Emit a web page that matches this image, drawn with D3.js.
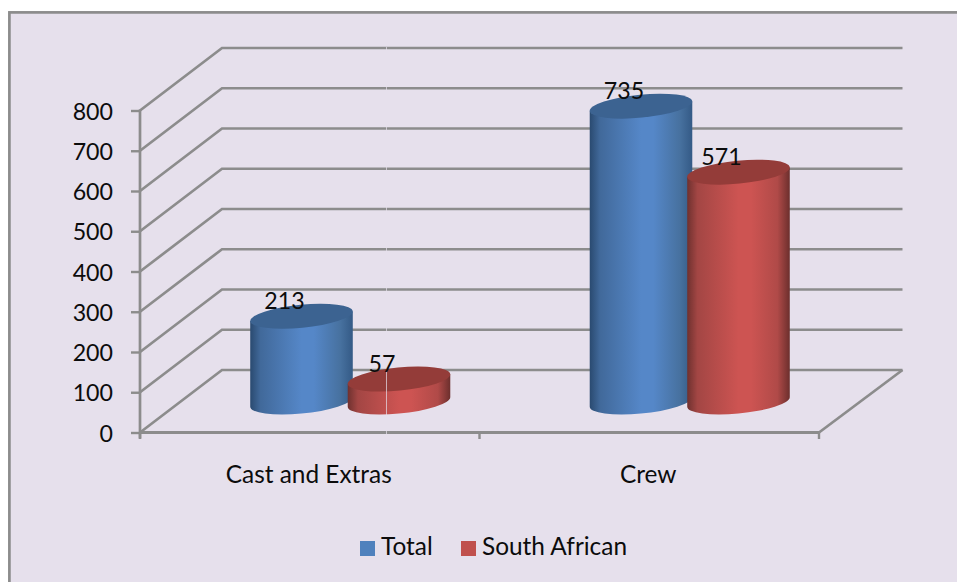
<!DOCTYPE html>
<html>
<head>
<meta charset="utf-8">
<script src="https://cdn.jsdelivr.net/npm/d3@7"></script>
<style>
  html, body { margin: 0; padding: 0; background: #fff; }
  svg { display: block; }
  text { font-family: Lato, "Open Sans", sans-serif; fill: #0c0c0c; }
</style>
</head>
<body>
<svg id="chart" width="957" height="582"></svg>
<script>
const categories = ["Cast and Extras", "Crew"];
const seriesNames = ["Total", "South African"];
const totalValues = [213, 735];
const southAfricanValues = [57, 571];
const yTicks = [0, 100, 200, 300, 400, 500, 600, 700, 800];

const seriesColors = ["#4f81bd", "#c0504d"];
const topColors = ["#3c6391", "#943c39"];
const sideStops = [
  [["0%", "#2a4a70"], ["10%", "#41699a"], ["50%", "#5587c8"], ["62%", "#5587c8"], ["88%", "#47719f"], ["100%", "#345a86"]],
  [["0%", "#6f312f"], ["10%", "#a34644"], ["50%", "#cd5452"], ["62%", "#cd5452"], ["88%", "#b04a48"], ["100%", "#6c2f2d"]]
];
const seriesValues = [totalValues, southAfricanValues];

const gridColor = "#8c8c8c";
const wallDx = 82, wallDy = -62.5;
const digitSize = 23.2, wordSize = 24.4;
const svg = d3.select("#chart");

const y = d3.scaleLinear().domain([0, 800]).range([432.5, 110.5]);
const x = d3.scaleBand().domain(categories).range([140, 819]);

// Panel background with its border running off the right and bottom edges
svg.append("rect").attr("x", 9.4).attr("y", 12.4).attr("width", 960).attr("height", 600)
  .attr("fill", "#e6e0ec").attr("stroke", gridColor).attr("stroke-width", 2.7);

const defs = svg.append("defs");
sideStops.forEach((stops, i) => {
  const g = defs.append("linearGradient").attr("id", "side" + i)
    .attr("x1", "0%").attr("x2", "100%").attr("y1", "0%").attr("y2", "0%");
  stops.forEach(s => g.append("stop").attr("offset", s[0]).attr("stop-color", s[1]));
});

// Side wall and back wall gridlines
const grid = svg.append("g").attr("fill", "none").attr("stroke", gridColor).attr("stroke-width", 2.7);
grid.selectAll("path.wall").data(yTicks).join("path").attr("class", "wall")
  .attr("d", d => d3.line()([
    [x.range()[0], y(d)],
    [x.range()[0] + wallDx, y(d) + wallDy],
    [x.range()[1] + wallDx + 1.5, y(d) + wallDy]
  ]));

// Floor edge on the right
grid.append("path").attr("d", d3.line()([
  [x.range()[1] + wallDx + 1.5, y(0) + wallDy],
  [x.range()[1], y(0)]
]));

// Value axis
const yAxis = d3.axisLeft(y).tickValues(yTicks).tickSize(9).tickPadding(18).tickFormat(d3.format("d"));
const yG = svg.append("g").attr("transform", `translate(${x.range()[0]},0)`).call(yAxis);
yG.select(".domain").remove();
yG.selectAll("line").attr("stroke", gridColor).attr("stroke-width", 2.4);
yG.selectAll("text").attr("font-size", digitSize).attr("dy", 8.5).style("font-family", "Lato");
svg.append("line")
  .attr("x1", x.range()[0]).attr("x2", x.range()[0])
  .attr("y1", y(800) - 1).attr("y2", y(0) + 6)
  .attr("stroke", gridColor).attr("stroke-width", 2.7);

// Category axis: baseline, ticks on the band edges, labels in the band centres
svg.append("line")
  .attr("x1", x.range()[0]).attr("x2", x.range()[1])
  .attr("y1", y(0)).attr("y2", y(0))
  .attr("stroke", gridColor).attr("stroke-width", 3);
svg.append("g").selectAll("line").data([...categories.map(c => x(c)), x.range()[1]]).join("line")
  .attr("x1", d => d).attr("x2", d => d)
  .attr("y1", y(0)).attr("y2", y(0) + 6.5)
  .attr("stroke", gridColor).attr("stroke-width", 2.4);
svg.append("g").selectAll("text").data(categories).join("text")
  .attr("x", d => x(d) + x.bandwidth() / 2 - 1)
  .attr("y", 482.5)
  .attr("text-anchor", "middle")
  .attr("font-size", wordSize)
  .text(d => d);

// Cylinders: a body with a rounded foot, capped by a tilted ellipse
const rx = 51.5, ry = 11.5, tiltDeg = -5.5;
const tilt = tiltDeg * Math.PI / 180;
const barDepthX = 40.5, seriesShift = 48.75;
const baseY = 402;
const heightOf = v => y(0) - y(v);
const t0 = Math.atan2(-ry * Math.sin(tilt), rx * Math.cos(tilt));
const tangent = t => [
  rx * Math.cos(t) * Math.cos(tilt) - ry * Math.sin(t) * Math.sin(tilt),
  rx * Math.cos(t) * Math.sin(tilt) + ry * Math.sin(t) * Math.cos(tilt)
];
const rightPt = tangent(t0), leftPt = tangent(t0 + Math.PI);

const bars = [];
seriesValues.forEach((vals, s) => vals.forEach((v, c) => {
  const cx = x(categories[c]) + x.bandwidth() / 2 + barDepthX + (s === 0 ? -seriesShift : seriesShift);
  bars.push({ s, v, cx });
}));
// Drawn category by category so each red cylinder overlaps its blue neighbour
bars.sort((a, b) => a.cx - b.cx);

const barG = svg.append("g");
bars.forEach(b => {
  const h = heightOf(b.v);
  const topY = baseY - h;
  const g = barG.append("g");
  const d = `M${b.cx + leftPt[0]},${topY + leftPt[1]}` +
    `L${b.cx + leftPt[0]},${baseY + leftPt[1]}` +
    `A${rx},${ry} ${tiltDeg} 0 0 ${b.cx + rightPt[0]},${baseY + rightPt[1]}` +
    `L${b.cx + rightPt[0]},${topY + rightPt[1]}Z`;
  g.append("path").attr("d", d).attr("fill", `url(#side${b.s})`);
  g.append("ellipse").attr("cx", 0).attr("cy", 0).attr("rx", rx).attr("ry", ry)
    .attr("transform", `translate(${b.cx},${topY}) rotate(${tiltDeg})`)
    .attr("fill", topColors[b.s]);
});

// Thin pale seam crossing the plot
svg.append("line").attr("x1", 386.5).attr("x2", 386.5).attr("y1", 47).attr("y2", 434)
  .attr("stroke", "#e6e0ec").attr("stroke-width", 1).attr("opacity", 0.7);

// Value labels
svg.append("g").selectAll("text").data(bars).join("text")
  .attr("x", d => d.cx - 17)
  .attr("y", d => baseY - heightOf(d.v) - 6.8)
  .attr("text-anchor", "middle")
  .attr("font-size", digitSize)
  .text(d => d.v);

// Legend
const legendX = [360, 461];
const legend = svg.append("g").selectAll("g").data(seriesNames).join("g")
  .attr("transform", (d, i) => `translate(${legendX[i]},541)`);
legend.append("rect").attr("width", 15).attr("height", 15).attr("fill", (d, i) => seriesColors[i]);
legend.append("text").attr("x", 21).attr("y", 14).attr("font-size", wordSize).text(d => d);
</script>
</body>
</html>
